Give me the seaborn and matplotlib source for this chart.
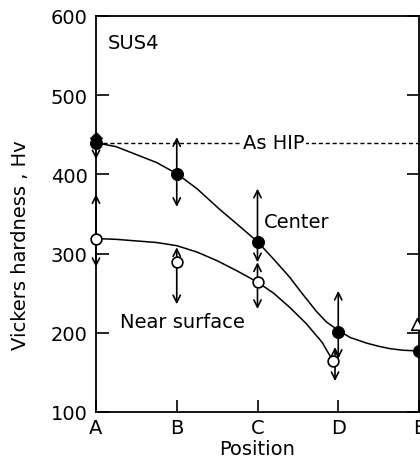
import matplotlib
matplotlib.use("Agg")
import matplotlib.pyplot as plt
import seaborn as sns
import pandas as pd

# ---- data ----
positions = ["A", "B", "C", "D", "E"]
yticks = [100, 200, 300, 400, 500, 600]

center_x = [0, 1, 2, 3, 4]
center_val = [440, 400, 315, 201, 177]
near_x = [0, 1, 2, 2.93]
near_val = [318, 289, 264, 165]

# error-range arrows (tip values)
center_arrow_x = [0, 1, 2, 3]
center_up = [440, 447, 382, 253]
center_down = [419, 359, 289, 167]
near_arrow_x = [0, 1, 2, 2.96]
near_up = [375, 308, 289, 182]
near_down = [283, 236, 230, 139]
near_base = [318, 289, 264, 165]
center_base = [440, 400, 315, 201]

tri_x = [0, 3.97]
tri_val = [446, 211]

# traced fit curves
center_curve_x = [0, 0.25, 0.45, 0.75, 1.0, 1.25, 1.53, 1.75, 2.0, 2.2, 2.4, 2.55,
                  2.73, 2.85, 3.0, 3.15, 3.35, 3.5, 3.64, 3.8, 4.0]
center_curve_y = [440, 435, 427, 415, 401, 382, 356, 337, 315, 293, 270, 250,
                  227, 214, 203, 194, 187, 183, 180, 178, 177]
near_curve_x = [0, 0.25, 0.5, 0.75, 1.0, 1.25, 1.5, 1.75, 2.0, 2.2, 2.4, 2.6, 2.8, 2.92]
near_curve_y = [319, 318, 316, 314, 310, 302, 291, 278, 264, 250, 232, 212, 188, 167]

hip_level = 440

# ---- figure ----
plt.rcParams['font.family'] = ['DejaVu Sans']
fig = plt.figure(figsize=(4.2, 4.64), dpi=100)
ax = fig.add_axes([96 / 420, 1 - 413 / 464, 323 / 420, (413 - 17) / 464])

sns.lineplot(x=center_curve_x, y=center_curve_y, ax=ax, color="black", lw=1.1,
             sort=False, estimator=None)
sns.lineplot(x=near_curve_x, y=near_curve_y, ax=ax, color="black", lw=1.1,
             sort=False, estimator=None)

ax.axhline(hip_level, xmin=0, xmax=1, color="black", lw=1.0, ls=(0, (3, 2)))
ax.text(2.2, hip_level, "As HIP", ha="center", va="center", fontsize=14,
        bbox=dict(facecolor="white", edgecolor="none", pad=1))

arrow_kw = dict(arrowstyle="->", lw=1.2, color="black", shrinkA=0, shrinkB=0,
                mutation_scale=13)
for x, b, u, d in zip(center_arrow_x, center_base, center_up, center_down):
    if u > b:
        ax.annotate("", xy=(x, u), xytext=(x, b), arrowprops=arrow_kw)
    ax.annotate("", xy=(x, d), xytext=(x, b), arrowprops=arrow_kw)
for x, b, u, d in zip(near_arrow_x, near_base, near_up, near_down):
    ax.annotate("", xy=(x, u), xytext=(x, b), arrowprops=arrow_kw)
    ax.annotate("", xy=(x, d), xytext=(x, b), arrowprops=arrow_kw)

sns.scatterplot(x=center_x, y=center_val, ax=ax, color="black", s=75,
                edgecolor="black", zorder=5, clip_on=False)
sns.scatterplot(x=near_x, y=near_val, ax=ax, color="white", s=60,
                edgecolor="black", linewidth=1.2, zorder=5, clip_on=False)
sns.scatterplot(x=tri_x[:1], y=tri_val[:1], ax=ax, color="black", marker="D", s=40,
                edgecolor="black", zorder=5, clip_on=False)
sns.scatterplot(x=tri_x[1:], y=tri_val[1:], ax=ax, color="white", marker="^", s=70,
                edgecolor="black", linewidth=1.2, zorder=5, clip_on=False)

ax.set_xlim(0, 4)
ax.set_ylim(100, 600)
ax.set_xticks(range(len(positions)))
ax.set_xticklabels(positions)
ax.set_yticks(yticks)
ax.tick_params(direction="in", length=9, width=1.2, labelsize=14, pad=4,
               right=True, top=False)
ax.tick_params(axis="y", pad=6)
for s in ax.spines.values():
    s.set_linewidth(1.3)

ax.set_xlabel("Position", fontsize=14, labelpad=2)
ax.set_ylabel("Vickers hardness , Hv", fontsize=14)
ax.yaxis.set_label_coords(-0.204, 0.424)

ax.text(0.14, 566, "SUS4", fontsize=14, ha="left", va="center")
ax.text(2.08, 340, "Center", fontsize=14, ha="left", va="center")
ax.text(0.3, 214, "Near surface", fontsize=14, ha="left", va="center")

fig.savefig("out.png", dpi=100)
